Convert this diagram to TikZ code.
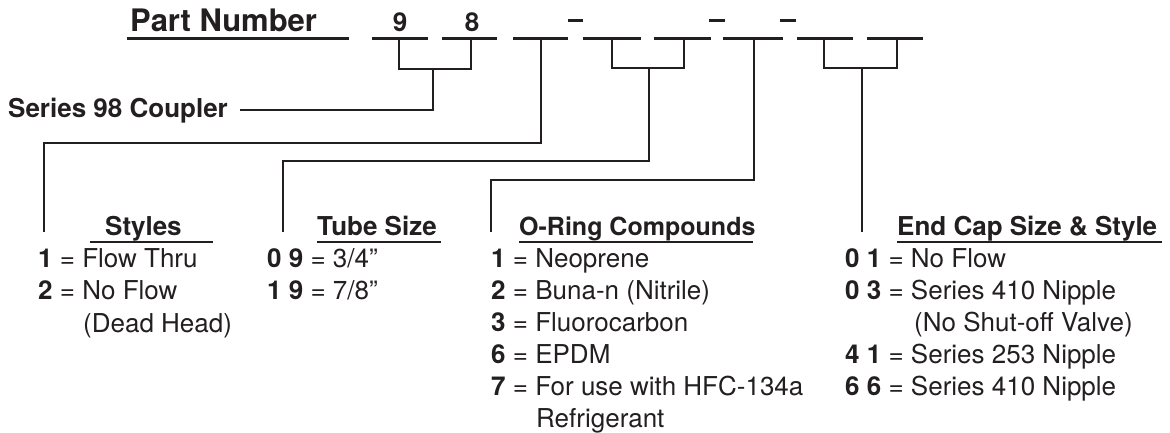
\documentclass[tikz,border=0pt]{standalone}
\usepackage{fontspec}
\setmainfont{TeX Gyre Heros}
\definecolor{ink}{RGB}{35,31,32}
\tikzset{
  ln/.style={line width=2.6pt, draw=ink},
  slotline/.style={line width=3pt, draw=ink},
  txt/.style={anchor=base west, inner sep=0pt, text=ink, font=\fontsize{26}{30}\selectfont},
  hd/.style={anchor=base west, inner sep=0pt, text=ink, font=\fontsize{26}{30}\selectfont\bfseries},
}
\begin{document}
\begin{tikzpicture}[x=1pt,y=-1pt]
\useasboundingbox (0,0) rectangle (1170,433);
% title
\node[hd, font=\fontsize{31}{34}\selectfont\bfseries] (pn) at (130,32) {Part Number};
\draw[line width=3pt, draw=ink] (127,38.5) -- (349,38.5);
% slots
\node[hd, anchor=base] (n9) at (400,32) {9};
\node[hd, anchor=base] (n8) at (472,32) {8};
\foreach \a/\b/\n in {372/428/1, 442/497/2, 513/568/3, 583/641/4, 654/711/5, 723/783/6, 797/853/7, 867/923/8}{
  \coordinate (sa\n) at (\a,38.5);
  \coordinate (sb\n) at (\b,38.5);
  \draw[slotline] (sa\n) -- (sb\n);
}
% dashes
\foreach \a/\b/\n in {568/583/1, 709/725/2, 780/796/3}{
  \coordinate (da\n) at (\a,21);
  \coordinate (db\n) at (\b,21);
  \draw[slotline] (da\n) -- (db\n);
}
% drop points
\coordinate (d1) at (399,38.5);
\coordinate (d2) at (471,38.5);
\coordinate (d3) at (541,38.5);
\coordinate (d4) at (612,38.5);
\coordinate (d5) at (684,38.5);
\coordinate (d6) at (754,38.5);
\coordinate (d7) at (824,38.5);
\coordinate (d8) at (897,38.5);
\coordinate (m12) at (433,69);
\coordinate (m45) at (649,68);
\coordinate (m78) at (862,68);
% coupler
\node[hd] (coup) at (8,118) {Series 98 Coupler};
\coordinate (c0) at (240,110);
\draw[ln] (d1) |- (m12) -| (d2);
\draw[ln] (m12) |- (c0);
% styles connector
\coordinate (k1) at (44,143);
\coordinate (t1) at (44,232);
\draw[ln] (d3) |- (k1) -- (t1);
% tube size connector
\coordinate (k2) at (283,161);
\coordinate (t2) at (283,232);
\draw[ln] (d4) |- (m45) -| (d5);
\draw[ln] (m45) |- (k2) -- (t2);
% o-ring connector
\coordinate (k3) at (491,180);
\coordinate (t3) at (491,232);
\draw[ln] (d6) |- (k3) -- (t3);
% end cap connector
\coordinate (t4) at (862,232);
\draw[ln] (d7) |- (m78) -| (d8);
\draw[ln] (m78) -- (t4);
% headings
\node[hd] (h1) at (105,235) {Styles};
\draw[ln] (90,242) -- (213,242);
\node[hd] (h2) at (317,235) {Tube Size};
\draw[ln] (317,242) -- (441,242);
\node[hd, font=\fontsize{25}{30}\selectfont\bfseries] (h3) at (519,235) {O-Ring Compounds};
\draw[ln] (519,242) -- (753,242);
\node[hd] (h4) at (897,235) {End Cap Size \& Style};
\draw[ln] (897,242) -- (1162,242);
% styles list
\node[txt] (s1) at (38,267) {\textbf{1} = Flow Thru};
\node[txt] (s2) at (38,299) {\textbf{2} = No Flow};
\node[txt] (s3) at (83,332) {(Dead Head)};
% tube list
\node[txt] (u1) at (267,267) {\textbf{0 9} = 3/4”};
\node[txt] (u2) at (267,299) {\textbf{1 9} = 7/8”};
% o-ring list
\node[txt] (o1) at (491,267) {\textbf{1} = Neoprene};
\node[txt] (o2) at (491,299) {\textbf{2} = Buna-n (Nitrile)};
\node[txt] (o3) at (491,331) {\textbf{3} = Fluorocarbon};
\node[txt] (o4) at (491,363) {\textbf{6} = EPDM};
\node[txt] (o5) at (491,395) {\textbf{7} = For use with HFC-134a};
\node[txt] (o6) at (536,427) {Refrigerant};
% end cap list
\node[txt] (e1) at (845,267) {\textbf{0 1} = No Flow};
\node[txt] (e2) at (845,299) {\textbf{0 3} = Series 410 Nipple};
\node[txt] (e3) at (914,331) {(No Shut-off Valve)};
\node[txt] (e4) at (845,363) {\textbf{4 1} = Series 253 Nipple};
\node[txt] (e5) at (845,395) {\textbf{6 6} = Series 410 Nipple};
\end{tikzpicture}
\end{document}
